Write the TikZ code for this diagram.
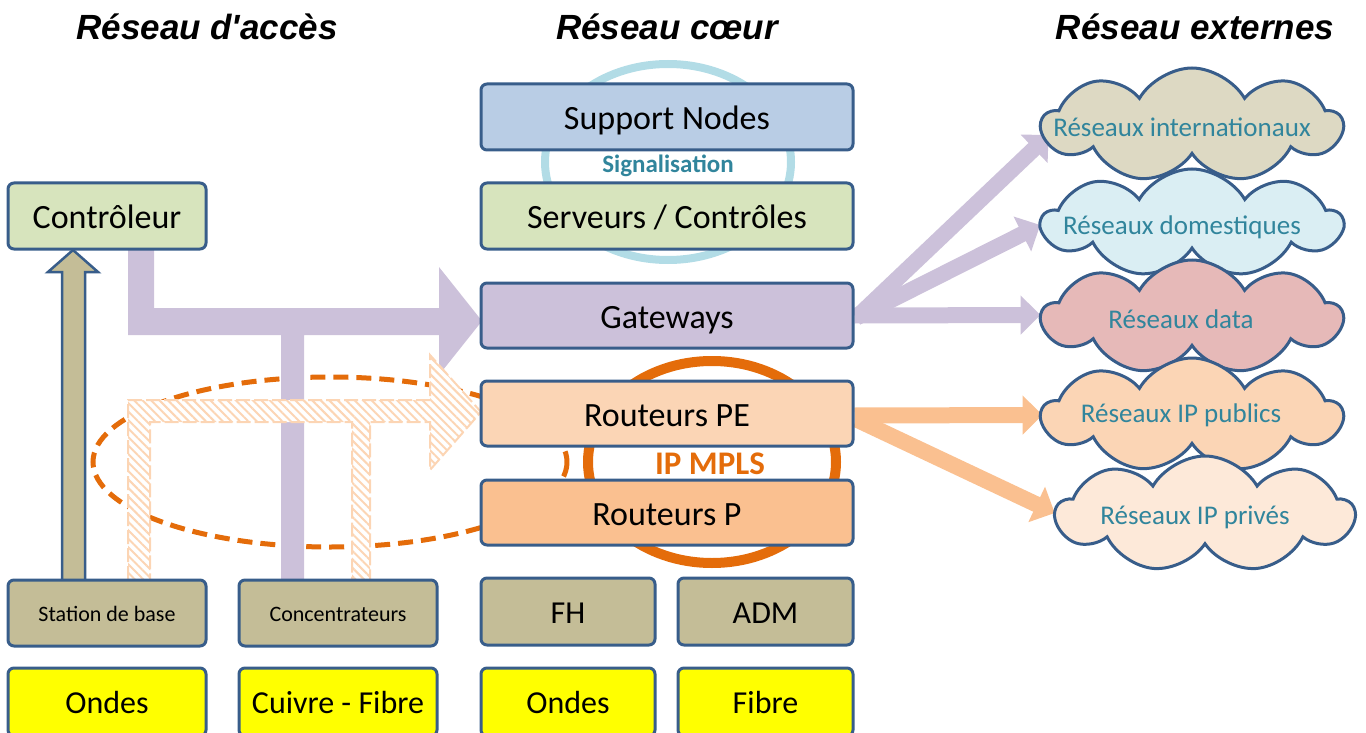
\documentclass[tikz,border=0pt]{standalone}
\usepackage{fontspec}
\setmainfont{Carlito}
\newfontfamily\titlefont{Liberation Sans}
\usetikzlibrary{shapes.symbols,arrows.meta,patterns.meta,calc}
\definecolor{bd}{HTML}{385D8A}
\definecolor{snfill}{HTML}{B9CDE5}
\definecolor{grfill}{HTML}{D7E4BD}
\definecolor{pufill}{HTML}{CCC1DA}
\definecolor{pefill}{HTML}{FBD5B5}
\definecolor{pfill}{HTML}{FAC090}
\definecolor{bgfill}{HTML}{C4BD97}
\definecolor{ylw}{HTML}{FFFF00}
\definecolor{ringblue}{HTML}{B2DCE6}
\definecolor{orng}{HTML}{E46C0A}
\definecolor{teal}{HTML}{31859C}
\definecolor{cA}{HTML}{DDD9C3}
\definecolor{cB}{HTML}{DAEEF3}
\definecolor{cC}{HTML}{E6B9B8}
\definecolor{cD}{HTML}{FBD5B5}
\definecolor{cE}{HTML}{FDE9D9}
\definecolor{peach}{HTML}{FCD5B4}
\newcommand{\fsz}[1]{\fontsize{#1}{#1}\selectfont}
\pgfdeclarelayer{bg}
\pgfsetlayers{bg,main}
\begin{document}
\begin{tikzpicture}[x=1pt,y=-1pt,
  box/.style={draw=bd, line width=3pt, rounded corners=6pt, inner sep=0pt, font=\fsz{34}, text height=25pt, text depth=0pt},
  smallbox/.style={box, font=\fsz{22}, text height=16pt},
  botbox/.style={box, font=\fsz{32}, text height=23.5pt},
  ttl/.style={font=\titlefont\fsz{35}\bfseries\itshape},
  cloudshape/.style={cloud, cloud puffs=9, cloud puff arc=120, aspect=2.8, draw=bd, line width=3pt, inner sep=0pt},
  cloudtxt/.style={text=teal, font=\fsz{27}},
  purplearrow/.style={draw=pufill, line width=16pt, -{Triangle[length=20pt,width=38pt]}},
  orangearrow/.style={draw=pfill, line width=16pt, -{Triangle[length=20pt,width=38pt]}}
]
\useasboundingbox (0,0) rectangle (1366,733);

% titles
\node[ttl] (t1) at (207,27) {Réseau d'accès};
\node[ttl] (t2) at (667,27) {Réseau cœur};
\node[ttl] (t3) at (1195,27) {Réseau externes};

% core boxes
\node[box, fill=snfill, minimum width=372, minimum height=66] (sn) at (667,117) {Support Nodes};
\node[box, fill=grfill, minimum width=372, minimum height=66] (sc) at (667,216) {Serveurs / Contrôles};
\node[box, fill=pufill, minimum width=372, minimum height=65] (gw) at (667,315.5) {Gateways};
\node[box, fill=pefill, minimum width=372, minimum height=65] (pe) at (667,413.5) {Routeurs PE};
\node[box, fill=pfill, minimum width=372, minimum height=65] (pp) at (667,512.5) {Routeurs P};
\node[botbox, fill=bgfill, minimum width=174, minimum height=67] (fh) at (568,611.5) {FH};
\node[botbox, fill=bgfill, minimum width=175, minimum height=67] (adm) at (765.5,611.5) {ADM};
\node[botbox, fill=ylw, minimum width=174, minimum height=68] (on2) at (568,702) {Ondes};
\node[botbox, fill=ylw, minimum width=175, minimum height=68] (fib) at (765.5,702) {Fibre};

% access boxes
\node[box, fill=grfill, minimum width=198, minimum height=66] (ctl) at (107,216) {Contrôleur};
\node[smallbox, fill=bgfill, minimum width=198, minimum height=66] (sta) at (107,613) {Station de base};
\node[smallbox, fill=bgfill, minimum width=198, minimum height=66] (con) at (338,613) {Concentrateurs};
\node[botbox, fill=ylw, minimum width=198, minimum height=68] (on1) at (107,702) {Ondes};
\node[botbox, fill=ylw, minimum width=198, minimum height=68] (cuf) at (338,702) {Cuivre - Fibre};

% ring labels
\node[text=teal, font=\fsz{25}\bfseries] (sig) at (668,166) {Signalisation};
\node[text=orng, font=\fsz{33}\bfseries] (mpls) at (710,464) {IP MPLS};

% clouds
\node[cloudshape, fill=cA, minimum width=300, minimum height=114] (c1) at (1192,125) {};
\node[cloudshape, fill=cB, minimum width=300, minimum height=108] (c2) at (1192,223) {};
\node[cloudshape, fill=cC, minimum width=300, minimum height=114] (c3) at (1192,317) {};
\node[cloudshape, fill=cD, minimum width=300, minimum height=114] (c4) at (1192,415) {};
\node[cloudshape, fill=cE, minimum width=298, minimum height=116] (c5) at (1205,514) {};
\node[cloudtxt] (l1) at (1182,127) {Réseaux internationaux};
\node[cloudtxt] (l2) at (1182,227) {Réseaux domestiques};
\node[cloudtxt] (l3) at (1181,319) {Réseaux data};
\node[cloudtxt] (l4) at (1181,415) {Réseaux IP publics};
\node[cloudtxt] (l5) at (1195,517) {Réseaux IP privés};

\begin{pgfonlayer}{bg}
  % rings
  \draw[ringblue, line width=8pt] (668,162) ellipse [x radius=123, y radius=98];
  \draw[orng, line width=10pt] (712,462) ellipse [x radius=124, y radius=101];
  % dashed ellipse
  \draw[orng, line width=5pt, dash pattern=on 15pt off 8pt] (330,462) ellipse [x radius=237, y radius=85];
  % purple T arrow
  \fill[pufill] (128,249) -- (154,249) -- (154,308) -- (439,308) -- (439,267) -- (482,321)
     -- (439,375) -- (439,335) -- (304,335) -- (304,580) -- (281,580) -- (281,335) -- (128,335) -- cycle;
  % beige up arrow
  \draw[bd, fill=bgfill, line width=2.5pt, line join=miter] (62,582) -- (62,272) -- (48,272) -- (73,250)
     -- (98,272) -- (85,272) -- (85,582) -- cycle;
  % hatched arrow
  \draw[peach, line width=2pt, dash pattern=on 14pt off 4pt, preaction={fill=white},
     pattern={Lines[angle=-45,distance=6pt,line width=2pt]}, pattern color=peach]
     (128,580) -- (128,400) -- (430,400) -- (430,355) -- (481,412) -- (430,470) -- (430,422)
     -- (370,422) -- (370,580) -- (352,580) -- (352,422) -- (150,422) -- (150,580) -- cycle;
  % arrows to clouds
  \draw[purplearrow] ($(gw.east)+(2,2)$) -- ($(c1.west)+(10,10)$);
  \draw[purplearrow] ($(gw.east)+(2,2)$) -- ($(c2.west)+(2,2)$);
  \draw[purplearrow] ($(gw.east)+(0,0)$) -- ($(c3.west)+(2,-2)$);
  \draw[orangearrow] ($(pe.east)+(0,2)$) -- ($(c4.west)+(4,0)$);
  \draw[orangearrow] ($(pe.east)+(2,6)$) -- ($(c5.west)+(2,-1)$);
\end{pgfonlayer}
\end{tikzpicture}
\end{document}
